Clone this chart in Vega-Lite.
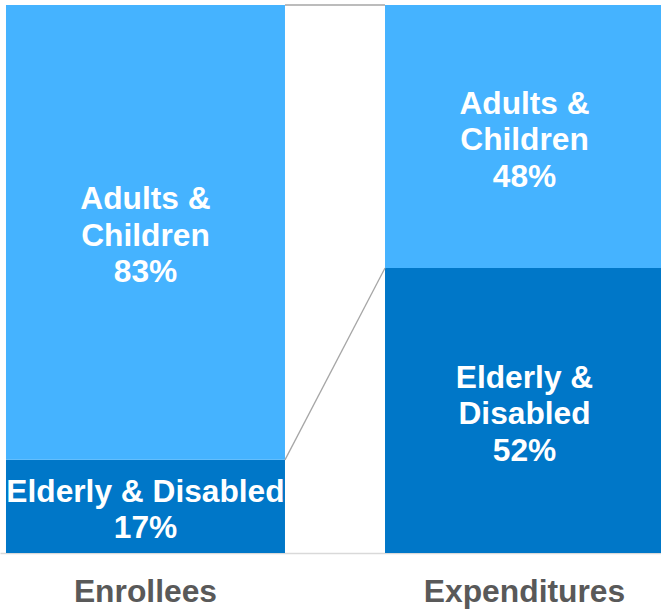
{
  "$schema": "https://vega.github.io/schema/vega-lite/v6.json",
  "width": 661,
  "height": 548,
  "autosize": {"type": "none"},
  "padding": {"left": 0, "top": 5, "right": 0, "bottom": 59},
  "config": {"view": {"stroke": null}, "font": "Liberation Sans"},
  "layer": [
    {
      "data": {"values": [
        {"group": "Enrollees", "segment": "Elderly & Disabled", "pct": 17, "order": 1, "label": ["Elderly & Disabled", "17%"]},
        {"group": "Enrollees", "segment": "Adults & Children", "pct": 83, "order": 2, "label": ["Adults &", "Children", "83%"]},
        {"group": "Expenditures", "segment": "Elderly & Disabled", "pct": 52, "order": 1, "label": ["Elderly &", "Disabled", "52%"]},
        {"group": "Expenditures", "segment": "Adults & Children", "pct": 48, "order": 2, "label": ["Adults &", "Children", "48%"]}
      ]},
      "transform": [
        {"stack": "pct", "groupby": ["group"], "sort": [{"field": "order"}], "as": ["lo", "hi"]},
        {"calculate": "(datum.lo + datum.hi) / 2 + (length(datum.label) - 1) * 18.25 / 5.48", "as": "mid"}
      ],
      "encoding": {
        "x": {
          "field": "group", "type": "nominal",
          "scale": {"domain": ["Enrollees", "Expenditures"], "range": [0, 670], "paddingInner": 0.2639, "paddingOuter": 0.0158},
          "axis": {"title": null, "labelAngle": 0, "ticks": false, "domainColor": "#d9d9d9", "domainWidth": 1.5, "labelFontSize": 31.8, "labelFontWeight": "bold", "labelColor": "#595959", "labelPadding": 23.5, "labelLimit": 500, "labelFont": "Liberation Sans"}
        }
      },
      "layer": [
        {
          "mark": {"type": "bar"},
          "encoding": {
            "y": {"field": "lo", "type": "quantitative", "scale": {"domain": [0, 100]}, "axis": null},
            "y2": {"field": "hi"},
            "color": {"field": "segment", "type": "nominal", "scale": {"domain": ["Elderly & Disabled", "Adults & Children"], "range": ["#0077C8", "#45B3FF"]}, "legend": null}
          }
        },
        {
          "mark": {"type": "text", "color": "white", "fontSize": 31.7, "fontWeight": "bold", "font": "Liberation Sans", "baseline": "middle", "align": "center", "lineHeight": 36.5, "dy": 3.5},
          "encoding": {
            "y": {"field": "mid", "type": "quantitative"},
            "text": {"field": "label"}
          }
        }
      ]
    },
    {
      "data": {"values": [
        {"from": "Enrollees", "to": "Expenditures", "v1": 17, "v2": 52},
        {"from": "Enrollees", "to": "Expenditures", "v1": 100, "v2": 100}
      ]},
      "mark": {"type": "rule", "color": "#a6a6a6", "strokeWidth": 1.3},
      "encoding": {
        "x": {"field": "from", "type": "nominal", "bandPosition": 1},
        "x2": {"field": "to", "bandPosition": 0},
        "y": {"field": "v1", "type": "quantitative"},
        "y2": {"field": "v2"}
      }
    }
  ]
}
